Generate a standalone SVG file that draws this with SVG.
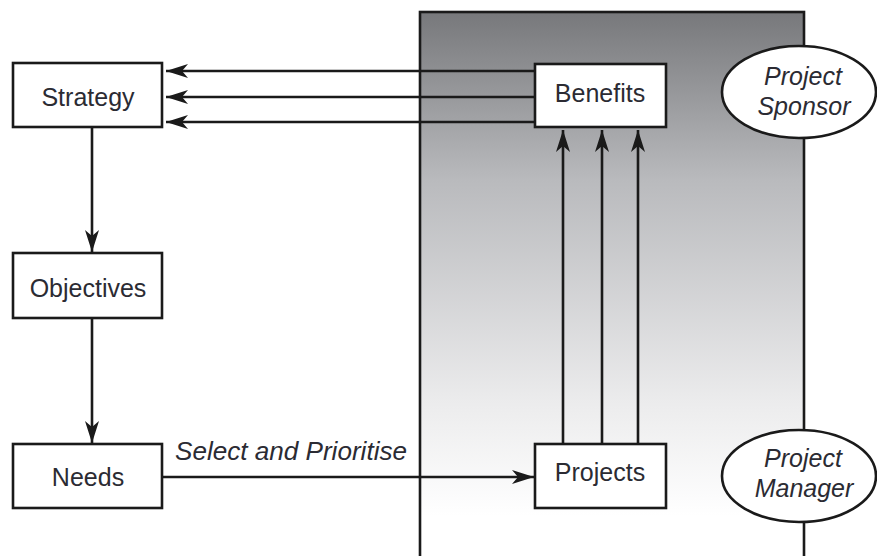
<svg xmlns="http://www.w3.org/2000/svg" width="877" height="556" viewBox="0 0 877 556">
<style>
.box{fill:#fff;stroke:#1a1a1a;stroke-width:2.6}
.ell{fill:#fff;stroke:#1a1a1a;stroke-width:2.6}
.lbl{font-family:"Liberation Sans",Arial,sans-serif;font-size:25px;fill:#2b2b33;text-anchor:middle}
.it{font-style:italic}
.con{stroke:#1a1a1a;stroke-width:2.6;fill:none;marker-end:url(#ah)}
</style>
<defs>
<linearGradient id="g" x1="0" y1="0" x2="0" y2="1">
<stop offset="0" stop-color="#77787b"/>
<stop offset="0.3" stop-color="#b9babd"/>
<stop offset="0.7" stop-color="#ececed"/>
<stop offset="0.9" stop-color="#ffffff"/>
</linearGradient>
<marker id="ah" markerUnits="userSpaceOnUse" markerWidth="24" markerHeight="16" refX="22" refY="7" orient="auto" viewBox="0 0 24 14">
<path d="M0,0 L22,7 L0,14 L6,7 Z" fill="#1a1a1a"/>
</marker>
</defs>
<rect width="877" height="556" fill="#fff"/>
<g id="project-area">
<rect x="420" y="12" width="384" height="560" fill="url(#g)" stroke="#1a1a1a" stroke-width="2.6"/>
</g>
<g id="connectors">
<line class="con" x1="535" y1="71" x2="166" y2="71"/>
<line class="con" x1="535" y1="97" x2="166" y2="97"/>
<line class="con" x1="535" y1="122" x2="166" y2="122"/>
<line class="con" x1="92" y1="127" x2="92" y2="252"/>
<line class="con" x1="92" y1="318" x2="92" y2="443"/>
<line class="con" x1="162" y1="477" x2="534" y2="477"/>
<line class="con" x1="563" y1="444" x2="563" y2="130"/>
<line class="con" x1="602" y1="444" x2="602" y2="130"/>
<line class="con" x1="638" y1="444" x2="638" y2="130"/>
<text class="lbl it" x="291" y="460" textLength="232" lengthAdjust="spacingAndGlyphs">Select and Prioritise</text>
</g>
<g id="strategy">
<rect class="box" x="13" y="63" width="149" height="64"/>
<text class="lbl" x="88" y="106">Strategy</text>
</g>
<g id="objectives">
<rect class="box" x="13" y="253" width="149" height="65"/>
<text class="lbl" x="88" y="297">Objectives</text>
</g>
<g id="needs">
<rect class="box" x="13" y="444" width="149" height="64"/>
<text class="lbl" x="88" y="486">Needs</text>
</g>
<g id="benefits">
<rect class="box" x="535" y="64" width="131" height="63"/>
<text class="lbl" x="600" y="102">Benefits</text>
</g>
<g id="projects">
<rect class="box" x="535" y="444" width="131" height="64"/>
<text class="lbl" x="600" y="481">Projects</text>
</g>
<g id="project-sponsor">
<ellipse class="ell" cx="799" cy="92" rx="77" ry="46"/>
<text class="lbl it" x="803" y="85">Project</text>
<text class="lbl it" x="804" y="115">Sponsor</text>
</g>
<g id="project-manager">
<ellipse class="ell" cx="799" cy="476" rx="77" ry="46"/>
<text class="lbl it" x="803" y="467">Project</text>
<text class="lbl it" x="804" y="497">Manager</text>
</g>
</svg>
